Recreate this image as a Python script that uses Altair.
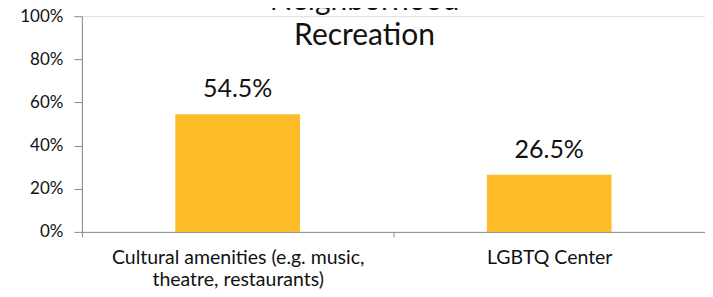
import altair as alt
import pandas as pd

categories = ["Cultural amenities (e.g. music, theatre, restaurants)", "LGBTQ Center"]
values = [0.545, 0.265]
labels = ["54.5%", "26.5%"]
title_lines = ["Neighborhood", "Recreation"]
y_ticks = [0, 0.2, 0.4, 0.6, 0.8, 1.0]

df = pd.DataFrame({"category": categories, "value": values, "label": labels})

FONT = "Lato"
BAR = "#FCBB27"
AX = "#8a8a8a"

label_expr = (
    "datum.value == 'Cultural amenities (e.g. music, theatre, restaurants)' "
    "? ['Cultural amenities (e.g. music,', 'theatre, restaurants)'] : datum.value"
)

x = alt.X(
    "category:N",
    sort=categories,
    title=None,
    scale=alt.Scale(paddingInner=0, paddingOuter=0),
    axis=alt.Axis(
        labelAngle=0,
        tickBand="extent",
        labelExpr=label_expr,
        labelLimit=0,
        labelFont=FONT,
        labelFontSize=19.5,
        labelColor="#111111",
        labelLineHeight=22,
        labelPadding=12,
        labelBaseline="top",
        tickSize=5,
        tickColor=AX,
        domainColor=AX,
        grid=False,
    ),
)
y = alt.Y(
    "value:Q",
    title=None,
    scale=alt.Scale(domain=[0, 1], nice=False),
    axis=alt.Axis(
        values=y_ticks,
        format=".0%",
        labelFont=FONT,
        labelFontSize=17,
        labelColor="#111111",
        labelPadding=11,
        tickSize=8,
        tickColor=AX,
        domainColor=AX,
        grid=False,
    ),
)

base = alt.Chart(df)
bars = base.mark_bar(color=BAR, width=alt.RelativeBandSize(0.4)).encode(x=x, y=y)
text = base.mark_text(
    font=FONT, fontSize=25, color="#111111", baseline="alphabetic", dy=-17
).encode(x=alt.X("category:N", sort=categories), y="value:Q", text="label:N")

t1 = alt.Chart(pd.DataFrame({"t": [title_lines[0]]})).mark_text(
    font=FONT, fontSize=30, color="#111111", baseline="alphabetic", align="center"
).encode(x=alt.value(283), y=alt.value(-6), text="t:N")
t2 = alt.Chart(pd.DataFrame({"t": [title_lines[1]]})).mark_text(
    font=FONT, fontSize=30, color="#111111", baseline="alphabetic", align="center"
).encode(x=alt.value(283), y=alt.value(29), text="t:N")

chart = (
    alt.layer(bars, text, t1, t2)
    .properties(
        width=624,
        height=216,
        autosize=alt.AutoSizeParams(type="none"),
        padding={"left": 74, "top": 8, "right": 0, "bottom": 66},
    )
    .configure_view(stroke=None)
    .configure(background="white")
)

chart.save("out.html", embed_options={"renderer": "svg", "actions": False})
